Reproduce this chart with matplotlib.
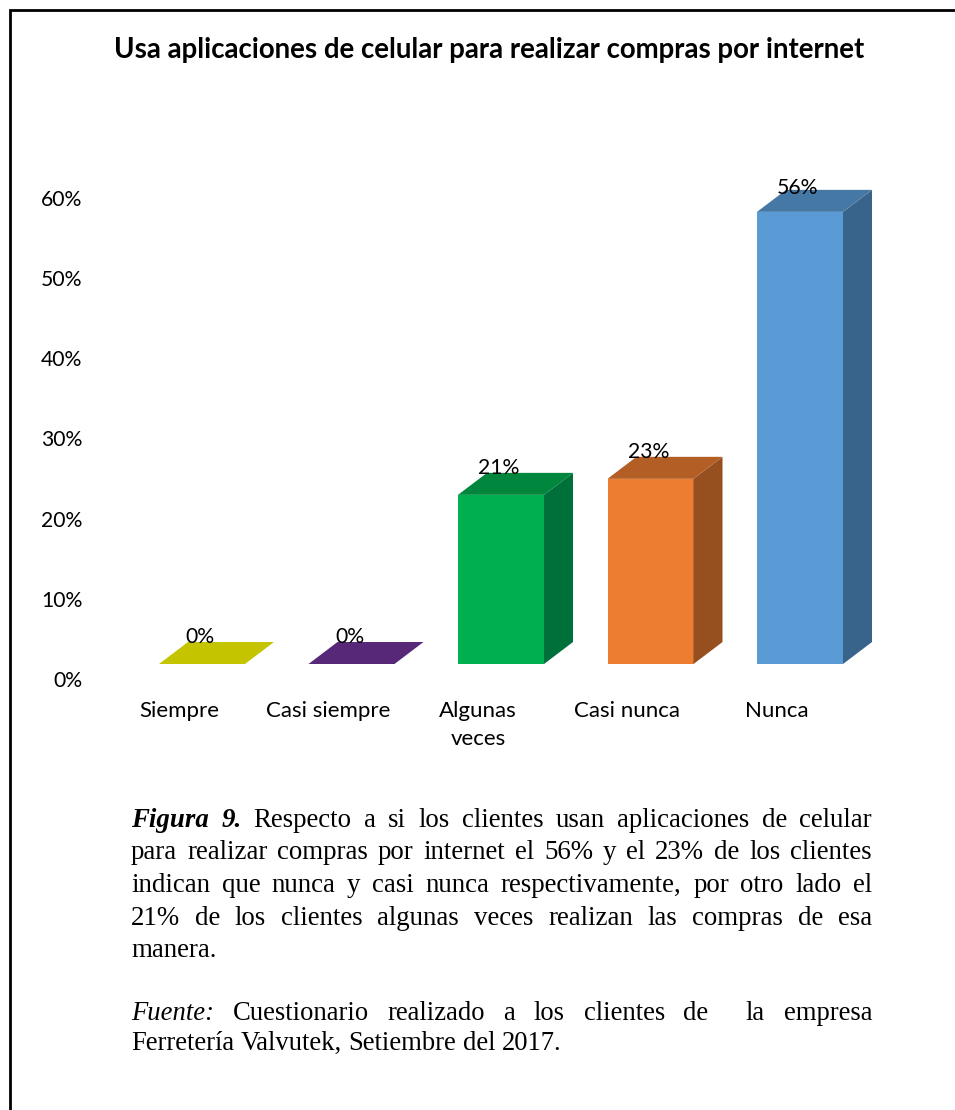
import matplotlib
matplotlib.use("Agg")
import matplotlib.pyplot as plt
from matplotlib.patches import Polygon

# Daten
categorias = ["Siempre", "Casi siempre", "Algunas\nveces", "Casi nunca", "Nunca"]
alturas = [0, 0, 21.1, 23.1, 56.4]   # Altura de las barras
valores = [0, 0, 21, 23, 56]
colores_frente = ["#c4c400", "#572878", "#00b050", "#ed7d31", "#5b9bd5"]
colores_arriba = ["#c4c400", "#572878", "#00863d", "#b25e25", "#4678a5"]
colores_lado = ["#939300", "#41195c", "#00703a", "#964f1f", "#38638a"]
ticks_y = [0, 10, 20, 30, 40, 50, 60]

titulo = "Usa aplicaciones de celular para realizar compras por internet"

# (baseline, tamano, trozos, justificar)
R, BI, I = ("normal", "normal"), ("bold", "italic"), ("normal", "italic")
parrafos = [
    (827, 19.4, [("Figura 9.", BI), ("Respecto a si los clientes usan aplicaciones de celular", R)], True),
    (859, 19.4, [("para realizar compras por internet el 56% y el 23% de los clientes", R)], True),
    (892, 19.4, [("indican que nunca y casi nunca respectivamente, por otro lado el", R)], True),
    (925, 19.4, [("21% de los clientes algunas veces realizan las compras de esa", R)], True),
    (957, 19.4, [("manera.", R)], False),
    (1020, 19.2, [("Fuente:", I), ("Cuestionario realizado a los clientes de  la empresa", R)], True),
    (1050, 19.2, [("Ferretería Valvutek, Setiembre del 2017.", R)], False),
]

W, H = 955, 1110
fig = plt.figure(figsize=(W / 100, H / 100), dpi=100, facecolor="white")

# Capa de pagina en pixeles
page = fig.add_axes([0, 0, 1, 1])
page.set_xlim(0, W)
page.set_ylim(H, 0)
page.axis("off")
page.plot([10, 10, W], [H, 9.5, 9.5], color="black", lw=2, solid_joinstyle="miter")
page.text(489.5, 50, titulo, family="Lato", weight="bold", fontsize=19.9, ha="center", va="center")

# Grafico
paso = 149.5        # pixeles por categoria
escala = 8.02       # pixeles por punto porcentual
izq = 202 - paso / 2
der = izq + 5 * paso
ax = fig.add_axes([izq / W, 1 - 679 / H, (der - izq) / W, (679 - 198) / H])
ax.patch.set_alpha(0)
ax.set_xlim(-0.5, 4.5)
ax.set_ylim(0, 60)
for s in ax.spines.values():
    s.set_visible(False)

ancho = 86 / paso
dx = 29 / paso
dy = 22 / escala
base = 15 / escala

for i, h in enumerate(alturas):
    x0 = i - ancho / 2
    x1 = i + ancho / 2
    y0 = base
    y1 = base + h
    if h > 0:
        ax.bar(i, h, width=ancho, bottom=base, color=colores_frente[i], zorder=2)
        ax.add_patch(Polygon([(x1, y0), (x1 + dx, y0 + dy), (x1 + dx, y1 + dy), (x1, y1)],
                             color=colores_lado[i], clip_on=False, zorder=2, lw=0))
    ax.add_patch(Polygon([(x0, y1), (x1, y1), (x1 + dx, y1 + dy), (x0 + dx, y1 + dy)],
                         color=colores_arriba[i], clip_on=False, zorder=2, lw=0))
    ax.text(i - 2 / paso, base + valores[i] + dy + 5.5 / escala, f"{valores[i]}%", family="Lato",
            fontsize=15.2, ha="center", va="center", clip_on=False, zorder=3)

ax.set_yticks(ticks_y)
ax.set_yticklabels([f"{t}%" for t in ticks_y], family="Lato", fontsize=15.2)
ax.set_xticks([i - 23 / paso for i in range(5)])
ax.set_xticklabels(categorias, family="Lato", fontsize=16, linespacing=1.5)
ax.tick_params(axis="both", length=0)
ax.tick_params(axis="y", pad=32.4)
ax.tick_params(axis="x", pad=16)

# Texto justificado, palabra por palabra
renderer = fig.canvas.get_renderer()
X_IZQ, X_DER = 131, 872


def medir(t, estilo, tam):
    tx = page.text(0, 0, t, family="Liberation Serif", fontsize=tam, weight=estilo[0], style=estilo[1])
    w = tx.get_window_extent(renderer).width
    tx.remove()
    return w


for y, tam, trozos, justificar in parrafos:
    palabras = []
    for t, estilo in trozos:
        palabras += [(p, estilo) for p in t.split(" ") if p]
    anchos = [medir(p, e, tam) for p, e in palabras]
    espacio = medir("a a", R, tam) - 2 * medir("a", R, tam)
    if justificar:
        # el doble espacio de "de  la" cuenta como dos huecos
        huecos = len(palabras) - 1
        dobles = sum(t.count("  ") for t, _ in trozos)
        espacio = (X_DER - X_IZQ - sum(anchos)) / (huecos + dobles)
    x = X_IZQ
    for k, ((p, e), a) in enumerate(zip(palabras, anchos)):
        page.text(x, y, p, family="Liberation Serif", fontsize=tam, weight=e[0], style=e[1],
                  ha="left", va="baseline")
        extra = 2 if p == "de" and "Cuestionario" in trozos[-1][0] and palabras[k + 1][0] == "la" else 1
        x += a + espacio * extra

fig.savefig("out.png", dpi=100)
